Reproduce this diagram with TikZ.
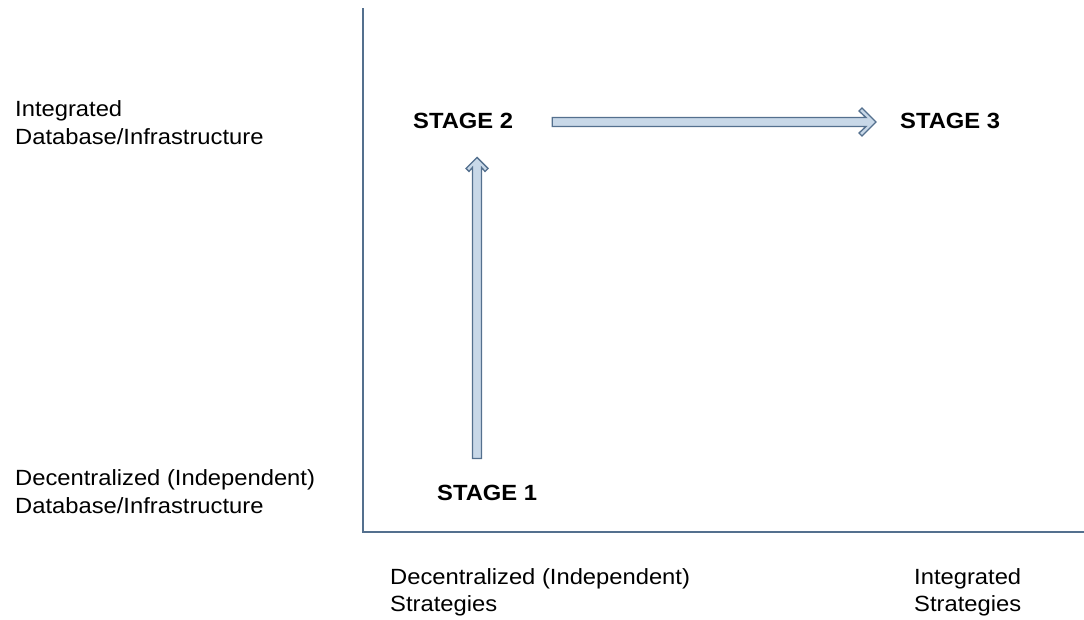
\documentclass[tikz,border=0pt]{standalone}
\usepackage{fontspec}
\setmainfont{Liberation Sans}[FakeStretch=1.08]
\usetikzlibrary{calc}
\definecolor{axisblue}{RGB}{84,112,142}
\definecolor{arrowfill}{RGB}{200,216,232}
\begin{document}
\begin{tikzpicture}[x=1pt,y=-1pt,
  lbl/.style={inner sep=0pt,anchor=base west,align=left,font=\fontsize{22}{28}\selectfont},
  stagelbl/.style={inner sep=0pt,anchor=base west,font=\fontsize{22}{28}\selectfont\bfseries},
  axisline/.style={draw=axisblue,line width=2pt},
  blockarrow/.style={draw=axisblue,fill=arrowfill,line width=1.3pt,line join=miter}]
\useasboundingbox (0,0) rectangle (1084,619);
% axes
\coordinate (top) at (363,8);
\coordinate (origin) at (363,532);
\coordinate (right) at (1084,532);
\draw[axisline] (top) -- (origin) -- (right);
% axis labels
\node[lbl] (yhi1) at (15,116) {Integrated};
\node[lbl] (yhi2) at (15,144) {Database/Infrastructure};
\node[lbl] (ylo1) at (15,485) {Decentralized (Independent)};
\node[lbl] (ylo2) at (15,513) {Database/Infrastructure};
\node[lbl] (xlo1) at (390,584) {Decentralized (Independent)};
\node[lbl] (xlo2) at (390,611) {Strategies};
\node[lbl] (xhi1) at (914,584) {Integrated};
\node[lbl] (xhi2) at (914,611) {Strategies};
% stages
\node[stagelbl] (s1) at (437,500) {STAGE 1};
\node[stagelbl] (s2) at (413,128) {STAGE 2};
\node[stagelbl] (s3) at (900,128) {STAGE 3};
% horizontal arrow s2 -> s3
\coordinate (hA) at ($(s2.base east)+(39,-6)$);
\coordinate (hB) at ($(s3.base west)+(-24,-6)$);
\draw[blockarrow] ($(hA)+(0,-4.5)$) -- ($(hB)+(-10,-4.5)$) -- ($(hB)+(-17,-11)$) -- ($(hB)+(-14,-14)$)
  -- (hB) -- ($(hB)+(-14,14)$) -- ($(hB)+(-17,11)$) -- ($(hB)+(-10,4.5)$) -- ($(hA)+(0,4.5)$) -- cycle;
% vertical arrow s1 -> s2
\coordinate (vA) at ($(s1.north west)+(40,-26)$);
\coordinate (vB) at ($(s2.south west)+(64,29)$);
\draw[blockarrow] ($(vA)+(-4.5,0)$) -- ($(vB)+(-4.5,10)$) -- ($(vB)+(-8,14)$) -- ($(vB)+(-11,11)$)
  -- (vB) -- ($(vB)+(11,11)$) -- ($(vB)+(8,14)$) -- ($(vB)+(4.5,10)$) -- ($(vA)+(4.5,0)$) -- cycle;
\end{tikzpicture}
\end{document}
